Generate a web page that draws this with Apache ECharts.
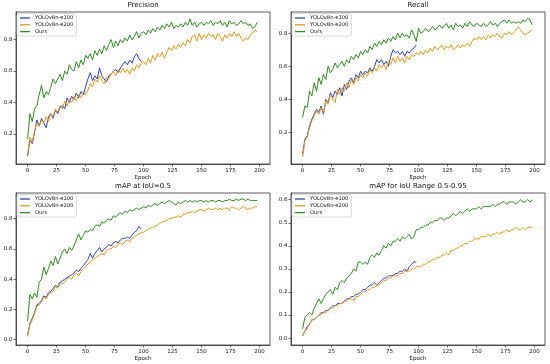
<!DOCTYPE html>
<html><head><meta charset="utf-8">
<script src="https://cdn.jsdelivr.net/npm/echarts@6/dist/echarts.min.js"></script>
<style>html,body{margin:0;padding:0;background:#fff}#c{width:550px;height:364px}</style>
</head><body><div id="c"></div>
<script>
// x positions: every second epoch
const epochs200 = Array.from({length: 100}, (_, i) => i * 2);
const epochs100 = Array.from({length: 50}, (_, i) => i * 2);
const seriesNames = ['YOLOv8n-e100', 'YOLOv8n-e200', 'Ours'];
const titles = ['Precision', 'Recall', 'mAP at IoU=0.5', 'mAP for IoU Range 0.5-0.95'];
const xTicks = [0, 25, 50, 75, 100, 125, 150, 175, 200];
const yTicks = [[0.2, 0.4, 0.6, 0.8], [0.2, 0.4, 0.6, 0.8], [0.0, 0.2, 0.4, 0.6, 0.8], [0.0, 0.1, 0.2, 0.3, 0.4, 0.5, 0.6]];

// Precision
const precE100 = [0.06,0.16,0.14,0.21,0.29,0.25,0.30,0.27,0.24,0.31,0.33,0.30,0.35,0.33,0.37,0.38,0.36,0.43,0.40,0.44,0.42,0.46,0.43,0.47,0.45,0.50,0.55,0.59,0.54,0.57,0.55,0.62,0.57,0.55,0.53,0.57,0.58,0.60,0.61,0.59,0.62,0.64,0.66,0.64,0.67,0.65,0.69,0.71,0.68,0.66];
const precE200 = [0.07,0.18,0.15,0.22,0.27,0.25,0.29,0.27,0.31,0.28,0.33,0.31,0.36,0.34,0.38,0.36,0.41,0.38,0.42,0.40,0.44,0.41,0.45,0.43,0.47,0.45,0.48,0.52,0.50,0.55,0.53,0.57,0.54,0.52,0.56,0.55,0.58,0.60,0.57,0.61,0.59,0.62,0.59,0.61,0.58,0.62,0.60,0.64,0.62,0.65,0.66,0.64,0.68,0.65,0.70,0.67,0.71,0.69,0.72,0.68,0.72,0.75,0.73,0.76,0.74,0.77,0.75,0.78,0.76,0.80,0.78,0.82,0.83,0.79,0.84,0.80,0.83,0.81,0.84,0.82,0.83,0.80,0.84,0.82,0.79,0.83,0.81,0.84,0.82,0.85,0.82,0.84,0.81,0.79,0.81,0.80,0.83,0.84,0.86,0.85];
const precOurs = [0.17,0.33,0.28,0.36,0.38,0.45,0.51,0.43,0.47,0.45,0.50,0.55,0.52,0.55,0.58,0.54,0.60,0.58,0.64,0.61,0.60,0.66,0.62,0.67,0.64,0.70,0.68,0.71,0.67,0.73,0.70,0.74,0.71,0.76,0.73,0.77,0.80,0.75,0.79,0.76,0.80,0.78,0.81,0.79,0.83,0.80,0.82,0.85,0.81,0.84,0.85,0.83,0.86,0.84,0.87,0.85,0.88,0.86,0.89,0.87,0.90,0.88,0.91,0.87,0.89,0.88,0.90,0.88,0.91,0.89,0.93,0.89,0.91,0.88,0.90,0.91,0.89,0.91,0.90,0.92,0.89,0.91,0.90,0.92,0.89,0.91,0.88,0.92,0.90,0.91,0.89,0.90,0.92,0.90,0.91,0.89,0.90,0.87,0.88,0.91];

// Recall
const recE100 = [0.07,0.16,0.18,0.24,0.28,0.31,0.34,0.32,0.36,0.31,0.40,0.38,0.44,0.41,0.45,0.43,0.47,0.42,0.49,0.46,0.51,0.53,0.50,0.55,0.53,0.57,0.55,0.57,0.56,0.59,0.57,0.60,0.64,0.62,0.64,0.61,0.63,0.60,0.66,0.70,0.68,0.69,0.67,0.69,0.66,0.69,0.68,0.70,0.71,0.73];
const recE200 = [0.05,0.15,0.17,0.23,0.27,0.30,0.33,0.31,0.35,0.32,0.39,0.37,0.43,0.40,0.38,0.46,0.43,0.47,0.45,0.50,0.47,0.52,0.49,0.53,0.51,0.55,0.53,0.56,0.54,0.58,0.56,0.59,0.57,0.61,0.59,0.61,0.58,0.63,0.61,0.65,0.62,0.66,0.63,0.65,0.62,0.66,0.64,0.67,0.66,0.68,0.67,0.69,0.67,0.70,0.68,0.71,0.69,0.72,0.70,0.71,0.73,0.70,0.72,0.71,0.73,0.70,0.71,0.73,0.71,0.73,0.72,0.74,0.72,0.75,0.77,0.76,0.78,0.76,0.78,0.76,0.79,0.77,0.79,0.78,0.80,0.78,0.77,0.80,0.79,0.81,0.79,0.80,0.82,0.84,0.82,0.80,0.79,0.80,0.81,0.82];
const recOurs = [0.29,0.36,0.35,0.45,0.42,0.50,0.45,0.53,0.49,0.55,0.52,0.60,0.56,0.58,0.62,0.59,0.61,0.63,0.60,0.64,0.62,0.66,0.64,0.67,0.65,0.69,0.67,0.70,0.68,0.72,0.70,0.74,0.72,0.75,0.73,0.76,0.74,0.77,0.75,0.78,0.76,0.80,0.77,0.80,0.78,0.79,0.77,0.82,0.79,0.75,0.83,0.80,0.81,0.83,0.81,0.82,0.84,0.82,0.83,0.85,0.83,0.84,0.86,0.83,0.85,0.82,0.86,0.84,0.85,0.83,0.86,0.84,0.87,0.85,0.84,0.86,0.85,0.84,0.86,0.84,0.85,0.87,0.85,0.86,0.84,0.86,0.87,0.88,0.86,0.88,0.86,0.87,0.86,0.87,0.86,0.88,0.87,0.89,0.88,0.85];

// mAP@0.5
const map50E100 = [0.03,0.11,0.14,0.18,0.23,0.24,0.26,0.29,0.28,0.31,0.32,0.34,0.36,0.35,0.38,0.39,0.40,0.41,0.42,0.43,0.44,0.46,0.45,0.47,0.49,0.51,0.53,0.57,0.54,0.57,0.59,0.61,0.58,0.60,0.61,0.63,0.62,0.64,0.65,0.64,0.66,0.67,0.67,0.68,0.67,0.69,0.71,0.72,0.75,0.73];
const map50E200 = [0.02,0.10,0.13,0.17,0.22,0.23,0.25,0.28,0.27,0.30,0.31,0.32,0.35,0.34,0.37,0.37,0.38,0.40,0.41,0.40,0.43,0.44,0.42,0.45,0.47,0.48,0.50,0.51,0.53,0.54,0.55,0.56,0.57,0.56,0.59,0.60,0.60,0.62,0.61,0.63,0.64,0.63,0.65,0.66,0.65,0.67,0.68,0.69,0.70,0.71,0.71,0.72,0.73,0.74,0.74,0.75,0.76,0.77,0.78,0.78,0.79,0.80,0.80,0.81,0.81,0.82,0.81,0.83,0.83,0.84,0.84,0.85,0.84,0.85,0.86,0.86,0.85,0.86,0.87,0.86,0.86,0.87,0.86,0.87,0.86,0.87,0.87,0.86,0.88,0.87,0.87,0.86,0.87,0.88,0.87,0.86,0.87,0.87,0.88,0.88];
const map50Ours = [0.12,0.30,0.27,0.31,0.28,0.38,0.40,0.48,0.43,0.47,0.52,0.49,0.55,0.50,0.54,0.58,0.60,0.57,0.61,0.59,0.62,0.66,0.70,0.66,0.69,0.72,0.71,0.73,0.72,0.75,0.76,0.75,0.78,0.77,0.79,0.80,0.79,0.82,0.81,0.83,0.84,0.83,0.85,0.84,0.86,0.85,0.86,0.87,0.86,0.87,0.88,0.87,0.89,0.88,0.89,0.90,0.89,0.90,0.91,0.90,0.91,0.92,0.91,0.90,0.89,0.91,0.90,0.91,0.92,0.91,0.92,0.91,0.92,0.91,0.92,0.92,0.91,0.92,0.91,0.92,0.92,0.91,0.92,0.92,0.91,0.92,0.92,0.93,0.92,0.92,0.93,0.92,0.93,0.93,0.92,0.93,0.92,0.92,0.92,0.92];

// mAP@0.5:0.95
const mapE100 = [0.01,0.03,0.05,0.06,0.08,0.08,0.09,0.10,0.11,0.11,0.12,0.12,0.13,0.14,0.14,0.15,0.15,0.15,0.16,0.17,0.17,0.18,0.18,0.19,0.19,0.20,0.21,0.21,0.22,0.23,0.23,0.24,0.23,0.24,0.25,0.26,0.26,0.27,0.27,0.27,0.28,0.28,0.29,0.29,0.30,0.29,0.31,0.32,0.33,0.33];
const mapE200 = [0.01,0.03,0.04,0.06,0.08,0.08,0.09,0.10,0.10,0.11,0.11,0.12,0.13,0.13,0.14,0.14,0.15,0.15,0.16,0.16,0.17,0.17,0.16,0.18,0.18,0.19,0.20,0.20,0.21,0.21,0.22,0.22,0.23,0.23,0.24,0.25,0.25,0.26,0.26,0.27,0.27,0.27,0.28,0.28,0.29,0.29,0.29,0.30,0.30,0.31,0.31,0.31,0.32,0.32,0.33,0.33,0.34,0.34,0.35,0.35,0.36,0.36,0.37,0.36,0.38,0.38,0.39,0.39,0.40,0.40,0.41,0.41,0.42,0.42,0.43,0.43,0.43,0.44,0.44,0.44,0.45,0.44,0.45,0.45,0.46,0.45,0.46,0.46,0.47,0.46,0.47,0.47,0.48,0.47,0.47,0.48,0.47,0.48,0.48,0.48];
const mapOurs = [0.04,0.09,0.10,0.11,0.10,0.13,0.15,0.17,0.15,0.17,0.19,0.20,0.21,0.19,0.22,0.21,0.24,0.25,0.24,0.26,0.27,0.28,0.30,0.29,0.33,0.33,0.32,0.33,0.32,0.35,0.36,0.35,0.37,0.36,0.38,0.40,0.39,0.41,0.40,0.42,0.42,0.43,0.42,0.44,0.43,0.44,0.45,0.43,0.44,0.47,0.47,0.48,0.48,0.49,0.49,0.50,0.50,0.51,0.51,0.52,0.52,0.51,0.52,0.52,0.53,0.54,0.53,0.54,0.55,0.54,0.55,0.56,0.55,0.56,0.56,0.56,0.57,0.56,0.57,0.57,0.57,0.57,0.58,0.57,0.58,0.58,0.59,0.59,0.58,0.59,0.59,0.59,0.58,0.59,0.60,0.59,0.59,0.60,0.59,0.60];

const panels = [
  [precE100, precE200, precOurs],
  [recE100, recE200, recOurs],
  [map50E100, map50E200, map50Ours],
  [mapE100, mapE200, mapOurs]
];
const yRanges = [[0.01, 0.975], [0.009, 0.928], [-0.035, 0.97], [-0.03, 0.629]];
const colors = ['#3342b8', '#e09a1c', '#2f8a1f'];
const grids = [
  {left: 16, top: 12, width: 254, height: 152},
  {left: 291, top: 12, width: 254, height: 152},
  {left: 16, top: 193, width: 254, height: 152},
  {left: 291, top: 193, width: 254, height: 152}
];
const FONT = 'DejaVu Sans';
const AX = {color: '#333', width: 0.8};

const option = {
  animation: false,
  backgroundColor: '#fff',
  textStyle: {fontFamily: FONT},
  title: grids.map((g, i) => ({
    text: titles[i], left: g.left + g.width / 2, top: g.top - 10.5, textAlign: 'center', padding: 0,
    textStyle: {fontFamily: FONT, fontSize: 7, fontWeight: 'normal', color: '#111'}
  })),
  legend: grids.map((g, i) => ({
    data: seriesNames, orient: 'vertical', left: g.left + 1, top: g.top + 1.5,
    icon: 'rect', itemWidth: 10, itemHeight: 1.3, itemGap: 1.8,
    padding: [2, 3, 2, 3], borderColor: '#d0d0d0', borderWidth: 0.8, borderRadius: 2,
    backgroundColor: '#fff', selectedMode: false,
    textStyle: {fontFamily: FONT, fontSize: 5.2, color: '#111'}
  })),
  grid: grids.map(g => ({left: g.left, top: g.top, width: g.width, height: g.height,
    show: true, borderColor: '#333', borderWidth: 0.8, backgroundColor: 'transparent'})),
  xAxis: grids.map((g, i) => ({
    type: 'value', gridIndex: i, min: -10, max: 209, position: 'bottom',
    name: 'Epoch', nameLocation: 'middle', nameGap: 10,
    nameTextStyle: {fontFamily: FONT, fontSize: 5.5, color: '#111'},
    axisLine: {show: true, onZero: false, lineStyle: AX}, splitLine: {show: false},
    axisTick: {show: true, length: 2.5, customValues: xTicks, lineStyle: {color: '#333', width: 0.7}},
    axisLabel: {customValues: xTicks, fontFamily: FONT, fontSize: 5.5, color: '#111', margin: 3.5}
  })),
  yAxis: grids.map((g, i) => ({
    type: 'value', gridIndex: i, min: yRanges[i][0], max: yRanges[i][1], position: 'left',
    axisLine: {show: true, onZero: false, lineStyle: AX}, splitLine: {show: false},
    axisTick: {show: true, length: 2.5, customValues: yTicks[i], lineStyle: {color: '#333', width: 0.7}},
    axisLabel: {customValues: yTicks[i], fontFamily: FONT, fontSize: 5.5, color: '#111', margin: 3.5,
      formatter: v => Number(v).toFixed(1)}
  })),
  series: []
};
panels.forEach((p, i) => {
  p.forEach((vals, k) => {
    const xs = k === 0 ? epochs100 : epochs200;
    option.series.push({
      type: 'line', name: seriesNames[k], xAxisIndex: i, yAxisIndex: i,
      data: vals.map((v, j) => [xs[j], v]), symbol: 'none', smooth: false,
      lineStyle: {color: colors[k], width: 1}, itemStyle: {color: colors[k]}
    });
  });
});
const chart = echarts.init(document.getElementById('c'), null, {renderer: 'canvas'});
chart.setOption(option);
</script></body></html>
